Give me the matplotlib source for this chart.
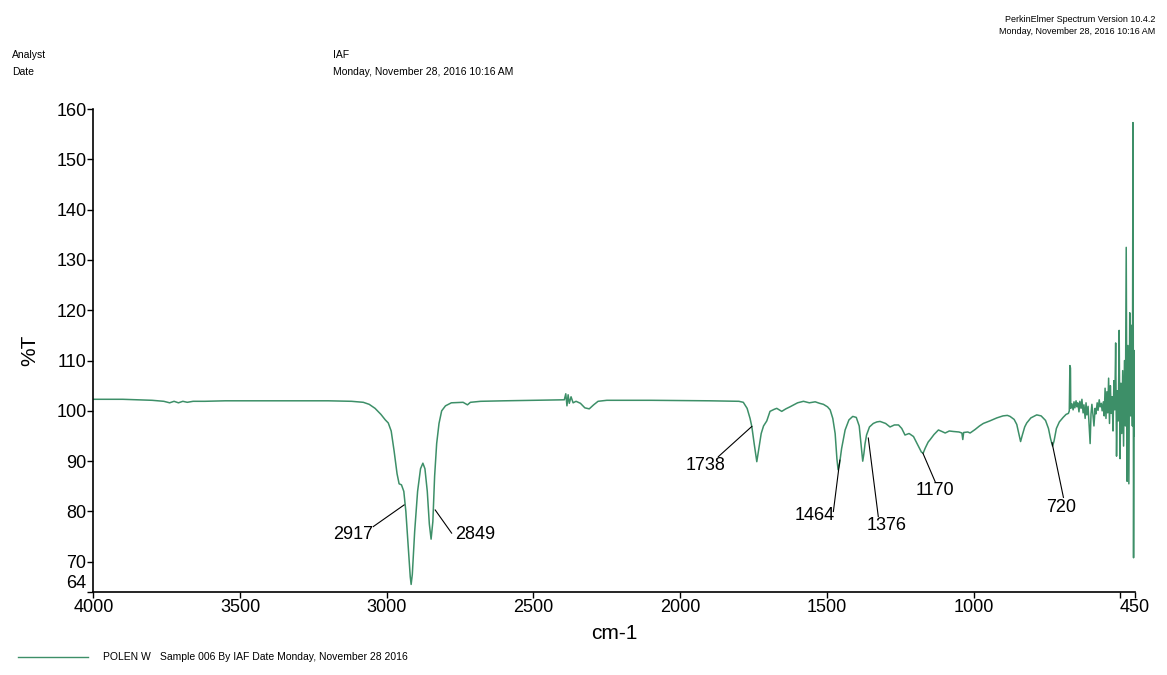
import matplotlib
matplotlib.use("Agg")
import matplotlib.pyplot as plt

plt.rcParams["font.family"] = ["Liberation Sans", "DejaVu Sans"]

# wavenumber (cm-1) and %T
wavenumber = [
    4000, 3950, 3900, 3850, 3800, 3760, 3740, 3725, 3710, 3695, 3680, 3660, 3620,
    3550, 3450, 3300, 3200, 3120, 3080, 3060, 3040, 3020, 3005, 2995, 2985, 2975,
    2965, 2958, 2950, 2942, 2935, 2927, 2920, 2917, 2913, 2905, 2895, 2885, 2877,
    2870, 2862, 2855, 2849, 2843, 2837, 2830, 2822, 2813, 2800, 2780, 2740, 2725,
    2715, 2680, 2600, 2500, 2420, 2395, 2390, 2386, 2382, 2378, 2372, 2365, 2355,
    2340, 2325, 2310, 2295, 2280, 2250, 2100, 1900, 1800, 1785, 1772, 1762, 1756,
    1748, 1739, 1732, 1724, 1716, 1705, 1694, 1680, 1671, 1660, 1654, 1640, 1626,
    1600, 1580, 1560, 1540, 1525, 1512, 1498, 1489, 1480, 1472, 1466, 1462, 1457,
    1450, 1438, 1425, 1412, 1400, 1390, 1384, 1378, 1374, 1370, 1365, 1355, 1342,
    1330, 1319, 1300, 1285, 1270, 1256, 1245, 1234, 1220, 1205, 1190, 1178, 1172,
    1165, 1155, 1148, 1135, 1120, 1108, 1097, 1083, 1069, 1050, 1040, 1037, 1034,
    1020, 1012, 995, 980, 967, 945, 921, 900, 885, 876, 862, 853, 846, 840, 834,
    826, 819, 805, 785, 770, 755, 745, 738, 731, 726, 718, 708, 695, 685, 677,
    674, 672, 670, 669, 665, 661, 658, 655, 651, 648, 645, 641, 638, 634, 631,
    627, 624, 620, 617, 614, 610, 607, 603, 600, 597, 593, 590, 586, 583, 579,
    576, 572, 569, 565, 562, 558, 555, 552, 549, 546, 543, 540, 537, 534, 531,
    528, 525, 522, 519, 516, 513, 510, 507, 504, 501, 498, 495, 492, 489, 486,
    483, 480, 477, 474, 471, 468, 465, 462, 459, 457, 455, 453, 451, 450,
]
transmittance = [
    102.3, 102.3, 102.3, 102.2, 102.1, 101.9, 101.6, 101.9, 101.6, 101.9, 101.7, 101.9, 101.9,
    102.0, 102.0, 102.0, 102.0, 101.9, 101.7, 101.3, 100.5, 99.3, 98.2, 97.6, 96.0, 92.0,
    87.5, 85.5, 85.3, 84.0, 80.0, 73.0, 67.0, 65.5, 67.5, 76.0, 84.0, 88.5, 89.6,
    88.5, 84.0, 77.5, 74.5, 78.0, 87.0, 93.5, 97.5, 100.0, 101.0, 101.6, 101.7, 101.2,
    101.7, 101.9, 102.0, 102.1, 102.2, 102.2, 103.4, 101.0, 103.2, 101.5, 102.8, 101.6, 101.9,
    101.5, 100.6, 100.4, 101.2, 101.9, 102.1, 102.1, 102.0, 101.9, 101.7, 100.5, 98.5, 96.9,
    93.5, 89.9, 92.5, 95.5, 97.0, 98.0, 99.9, 100.3, 100.5, 100.1, 99.9, 100.4, 100.8,
    101.6, 101.9, 101.6, 101.8, 101.5, 101.3, 100.8, 100.2, 98.5, 95.5, 90.5, 88.3, 89.5,
    92.5, 96.2, 98.2, 98.9, 98.7, 97.0, 93.5, 90.0, 91.5, 93.5, 95.2, 96.8, 97.5,
    97.8, 97.9, 97.5, 96.8, 97.2, 97.2, 96.5, 95.2, 95.5, 94.9, 93.2, 91.8, 91.6,
    92.6, 93.8, 94.3, 95.3, 96.2, 95.9, 95.6, 96.0, 95.9, 95.8, 95.6, 94.3, 95.7,
    95.8, 95.6, 96.3, 97.0, 97.5, 98.0, 98.6, 99.0, 99.1, 98.9, 98.3, 97.3, 95.5, 93.9, 95.2,
    96.8, 97.6, 98.6, 99.2, 99.0, 98.1, 96.5, 94.5, 93.0, 94.0, 96.5, 97.8, 98.7, 99.3, 99.5,
    100.0, 109.0, 108.5, 100.5, 101.4, 100.2, 101.8, 100.6, 102.0, 100.8, 101.6, 99.8, 101.9, 100.5, 102.3,
    99.6, 101.2, 98.5, 101.6, 99.2, 100.9, 97.8, 93.5, 99.4, 101.3, 99.0, 97.0, 100.5, 99.4, 101.6,
    100.1, 102.2, 100.8, 101.5, 100.0, 101.8, 99.0, 104.5, 98.5, 103.8, 99.6, 106.5, 97.5, 105.0, 99.5,
    102.8, 96.0, 106.0, 100.2, 113.5, 91.0, 104.0, 98.0, 116.0, 90.5, 105.5, 95.5, 108.0, 93.0, 110.0,
    97.0, 132.5, 86.0, 113.0, 85.5, 119.5, 99.0, 117.0, 97.0, 157.3, 70.8, 112.0, 95.0, 100.0,
]

# peak labels: (text, point on curve, end of leader line, label position)
peak_labels = ["2917", "2849", "1738", "1464", "1376", "1170", "720"]
leader_start = [(2941, 81.3), (2835, 80.3), (1756, 96.9), (1456, 90.2), (1359, 94.6), (1173, 91.6), (733, 93.7)]
leader_end = [(3046, 77.0), (2779, 75.7), (1870, 90.9), (1478, 80.0), (1325, 79.0), (1131, 85.9), (694, 82.8)]
label_pos = [(3048, 75.4), (2767, 75.4), (1913, 89.2), (1541, 79.2), (1296, 77.2), (1131, 84.1), (702, 80.7)]
label_ha = ["right", "left", "center", "center", "center", "center", "center"]

line_color = "#3d8f68"

fig = plt.figure(figsize=(11.67, 6.75), dpi=100)
ax = fig.add_axes([0.080, 0.123, 0.8926, 0.7155])

ax.plot(wavenumber, transmittance, color=line_color, lw=1.1)

for txt, s, e, p, ha in zip(peak_labels, leader_start, leader_end, label_pos, label_ha):
    ax.plot([s[0], e[0]], [s[1], e[1]], color="black", lw=0.8)
    ax.text(p[0], p[1], txt, ha=ha, va="center", fontsize=13)

ax.set_xlim(4000, 450)
ax.set_ylim(64, 160)
ax.set_xticks([4000, 3500, 3000, 2500, 2000, 1500, 1000, 500, 450])
ax.set_xticklabels(["4000", "3500", "3000", "2500", "2000", "1500", "1000", "", "450"])
ax.set_yticks([64, 70, 80, 90, 100, 110, 120, 130, 140, 150, 160])
ax.tick_params(labelsize=13, length=4, width=1, pad=1)
# the 64 label sits just above its tick so it clears the 4000 label
ax.get_yticklabels()[0].set_va("bottom")
ax.spines["top"].set_visible(False)
ax.spines["right"].set_visible(False)
for s in ("left", "bottom"):
    ax.spines[s].set_linewidth(1.2)
ax.set_xlabel("cm-1", fontsize=15, labelpad=6)
ax.set_ylabel("%T", fontsize=15, labelpad=12)

# header of the printout
fig.text(12 / 1167, 1 - 55 / 675, "Analyst", fontsize=7.5, va="center")
fig.text(12 / 1167, 1 - 72 / 675, "Date", fontsize=7.5, va="center")
fig.text(333 / 1167, 1 - 55 / 675, "IAF", fontsize=7.5, va="center")
fig.text(333 / 1167, 1 - 72 / 675, "Monday, November 28, 2016 10:16 AM", fontsize=7.5, va="center")
fig.text(1155 / 1167, 1 - 20 / 675, "PerkinElmer Spectrum Version 10.4.2", fontsize=6.5, ha="right", va="center")
fig.text(1155 / 1167, 1 - 32 / 675, "Monday, November 28, 2016 10:16 AM", fontsize=6.5, ha="right", va="center")

# legend line at the bottom
fig.add_artist(plt.Line2D([18 / 1167, 88 / 1167], [1 - 657 / 675] * 2, color=line_color, lw=1))
fig.text(103 / 1167, 1 - 657 / 675, "POLEN W", fontsize=7.5, va="center")
fig.text(160 / 1167, 1 - 657 / 675, "Sample 006 By IAF Date Monday, November 28 2016", fontsize=7.5, va="center")

fig.savefig("out.png", dpi=100)
